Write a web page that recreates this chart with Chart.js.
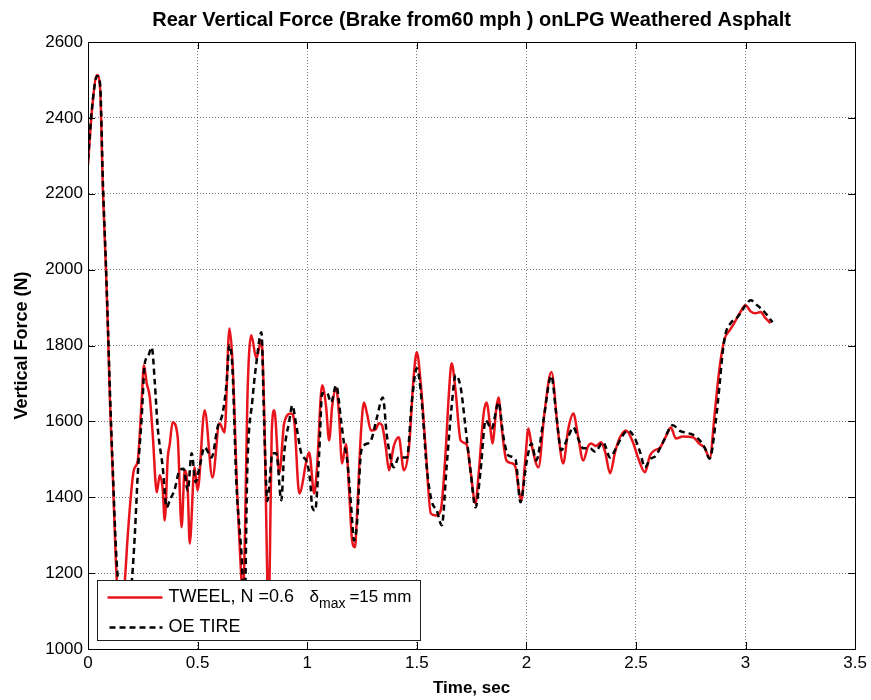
<!DOCTYPE html>
<html lang="en">
<head>
<meta charset="UTF-8">
<title>Rear Vertical Force</title>
<style>
  body { margin: 0; background: #fff; }
  #wrap { width: 871px; height: 700px; }
</style>
<script src="https://cdn.jsdelivr.net/npm/chart.js"></script>
</head>
<body>
<div id="wrap"><canvas id="chart" width="871" height="700"></canvas></div>
<script>
// TWEEL, N = 0.6, delta max = 15 mm
const tweelTime = [0.000, 0.018, 0.041, 0.055, 0.068, 0.082, 0.091, 0.100, 0.114, 0.127,
  0.145, 0.168, 0.182, 0.209, 0.227, 0.245, 0.255, 0.268, 0.282, 0.295,
  0.314, 0.327, 0.341, 0.350, 0.364, 0.373, 0.386, 0.409, 0.427, 0.441,
  0.455, 0.464, 0.486, 0.500, 0.532, 0.568, 0.600, 0.623, 0.645, 0.659,
  0.682, 0.700, 0.705, 0.716, 0.727, 0.745, 0.768, 0.791, 0.805, 0.818,
  0.823, 0.830, 0.838, 0.850, 0.873, 0.895, 0.927, 0.941, 0.964, 1.000,
  1.009, 1.032, 1.045, 1.068, 1.086, 1.100, 1.114, 1.132, 1.145, 1.159,
  1.177, 1.191, 1.205, 1.218, 1.227, 1.245, 1.259, 1.273, 1.291, 1.314,
  1.327, 1.341, 1.359, 1.373, 1.395, 1.418, 1.441, 1.464, 1.486, 1.500,
  1.518, 1.541, 1.564, 1.586, 1.609, 1.632, 1.645, 1.659, 1.677, 1.700,
  1.727, 1.745, 1.768, 1.782, 1.805, 1.818, 1.836, 1.845, 1.864, 1.873,
  1.886, 1.909, 1.932, 1.950, 1.968, 1.977, 1.995, 2.009, 2.023, 2.055,
  2.082, 2.114, 2.145, 2.168, 2.191, 2.214, 2.236, 2.259, 2.282, 2.295,
  2.318, 2.341, 2.359, 2.382, 2.405, 2.427, 2.455, 2.486, 2.509, 2.541,
  2.564, 2.586, 2.609, 2.636, 2.659, 2.682, 2.714, 2.759, 2.791, 2.814,
  2.836, 2.859, 2.873, 2.886, 2.905, 2.927, 2.950, 2.973, 3.000, 3.023,
  3.045, 3.068, 3.091, 3.114];
const tweelForce = [2276, 2420, 2513, 2480, 2210, 2000, 1840, 1656, 1445, 1234,
  1080, 1180, 1305, 1471, 1497, 1656, 1748, 1700, 1663, 1568,
  1413, 1458, 1420, 1339, 1505, 1540, 1598, 1560, 1321, 1471,
  1420, 1278, 1479, 1418, 1629, 1452, 1595, 1571, 1845, 1760,
  1392, 1180, 1120, 1300, 1656, 1827, 1766, 1814, 1600, 1180,
  1050, 1250, 1568, 1629, 1463, 1595, 1621, 1600, 1410, 1505,
  1518, 1410, 1480, 1695, 1640, 1550, 1640, 1687, 1620, 1489,
  1540, 1420, 1286, 1268, 1350, 1568, 1650, 1620, 1576, 1580,
  1595, 1590, 1530, 1471, 1535, 1558, 1471, 1530, 1720, 1782,
  1700, 1524, 1357, 1352, 1365, 1524, 1660, 1753, 1680, 1550,
  1540, 1470, 1384, 1460, 1621, 1650, 1580, 1542, 1640, 1663,
  1590, 1497, 1490, 1480, 1410, 1392, 1500, 1581, 1540, 1479,
  1620, 1730, 1570, 1489, 1580, 1621, 1560, 1497, 1535, 1542,
  1535, 1545, 1520, 1463, 1520, 1558, 1576, 1545, 1505, 1466,
  1510, 1524, 1530, 1560, 1584, 1555, 1560, 1558, 1540, 1530,
  1502, 1620, 1700, 1761, 1819, 1840, 1861, 1885, 1906, 1890,
  1885, 1888, 1872, 1859];

// OE tire
const oeTime = [0.000, 0.018, 0.041, 0.055, 0.068, 0.082, 0.091, 0.100, 0.114, 0.127,
  0.141, 0.159, 0.182, 0.200, 0.214, 0.227, 0.245, 0.259, 0.273, 0.291,
  0.305, 0.318, 0.341, 0.359, 0.373, 0.395, 0.418, 0.436, 0.455, 0.473,
  0.491, 0.509, 0.532, 0.564, 0.591, 0.614, 0.632, 0.645, 0.659, 0.677,
  0.700, 0.714, 0.727, 0.750, 0.768, 0.791, 0.805, 0.818, 0.827, 0.841,
  0.859, 0.882, 0.895, 0.918, 0.932, 0.950, 0.973, 1.000, 1.014, 1.023,
  1.036, 1.055, 1.068, 1.091, 1.109, 1.132, 1.155, 1.168, 1.182, 1.200,
  1.214, 1.227, 1.245, 1.259, 1.291, 1.318, 1.345, 1.364, 1.395, 1.418,
  1.455, 1.477, 1.500, 1.523, 1.545, 1.568, 1.591, 1.614, 1.636, 1.659,
  1.677, 1.700, 1.723, 1.745, 1.768, 1.791, 1.814, 1.841, 1.873, 1.895,
  1.918, 1.950, 1.973, 2.000, 2.023, 2.045, 2.077, 2.114, 2.136, 2.159,
  2.191, 2.214, 2.236, 2.259, 2.291, 2.314, 2.350, 2.382, 2.409, 2.436,
  2.464, 2.495, 2.518, 2.541, 2.564, 2.591, 2.623, 2.668, 2.700, 2.727,
  2.759, 2.791, 2.814, 2.836, 2.864, 2.882, 2.895, 2.909, 2.932, 2.964,
  3.000, 3.023, 3.055, 3.091, 3.123];
const oeForce = [2290, 2425, 2510, 2490, 2230, 2010, 1850, 1680, 1460, 1270,
  1150, 1060, 1100, 1180, 1305, 1460, 1611, 1753, 1770, 1795,
  1700, 1584, 1479, 1373, 1392, 1420, 1471, 1475, 1418, 1516,
  1440, 1480, 1532, 1505, 1584, 1621, 1700, 1801, 1740, 1437,
  1252, 1100, 1479, 1656, 1753, 1835, 1568, 1390, 1430, 1516,
  1516, 1392, 1516, 1600, 1642, 1590, 1516, 1490, 1440, 1373,
  1365, 1520, 1674, 1674, 1650, 1695, 1600, 1542, 1500, 1380,
  1286, 1330, 1516, 1537, 1550, 1610, 1663, 1560, 1479, 1505,
  1505, 1650, 1740, 1650, 1480, 1390, 1365, 1326, 1480, 1640,
  1722, 1690, 1580, 1470, 1373, 1470, 1603, 1580, 1650, 1560,
  1510, 1500, 1387, 1490, 1542, 1497, 1600, 1720, 1620, 1524,
  1560, 1584, 1555, 1529, 1529, 1520, 1545, 1505, 1530, 1560,
  1576, 1555, 1520, 1479, 1500, 1510, 1545, 1590, 1575, 1570,
  1565, 1550, 1530, 1502, 1600, 1700, 1780, 1832, 1859, 1875,
  1906, 1919, 1905, 1885, 1861];

const FONT = "'Liberation Sans', Arial, Helvetica, sans-serif";

const toPoints = (xs, ys) => xs.map((t, i) => ({x: t, y: ys[i]}));

// matlab-like axes: closed box, inward tick marks, boxed legend on top of the lines
const axesBox = {
  id: 'axesBox',
  afterDraw(chart) {
    const {ctx, chartArea: a, scales: {x, y}} = chart;
    ctx.save();
    ctx.strokeStyle = '#000';
    ctx.lineWidth = 1;
    ctx.beginPath();
    x.ticks.forEach(t => {
      const px = Math.round(x.getPixelForValue(t.value)) + 0.5;
      ctx.moveTo(px, a.bottom); ctx.lineTo(px, a.bottom - 7);
      ctx.moveTo(px, a.top); ctx.lineTo(px, a.top + 7);
    });
    y.ticks.forEach(t => {
      const py = Math.round(y.getPixelForValue(t.value)) + 0.5;
      ctx.moveTo(a.left, py); ctx.lineTo(a.left + 7, py);
      ctx.moveTo(a.right, py); ctx.lineTo(a.right - 7, py);
    });
    ctx.stroke();
    ctx.strokeRect(Math.round(a.left) + 0.5, Math.round(a.top) + 0.5,
      Math.round(a.right - a.left), Math.round(a.bottom - a.top));

    // legend
    const lx = Math.round(a.left) + 9.5, lw = 323, lh = 60;
    const ly = Math.round(a.bottom) - 8.5 - lh;
    ctx.fillStyle = '#fff';
    ctx.fillRect(lx, ly, lw, lh);
    ctx.strokeStyle = '#222';
    ctx.strokeRect(lx, ly, lw, lh);

    const row1 = ly + 17, row2 = ly + 47;
    ctx.lineWidth = 2.5;
    ctx.strokeStyle = '#e8141b';
    ctx.beginPath(); ctx.moveTo(lx + 10, row1); ctx.lineTo(lx + 65, row1); ctx.stroke();
    ctx.strokeStyle = '#000';
    ctx.setLineDash([6, 4]);
    ctx.beginPath(); ctx.moveTo(lx + 12, row2); ctx.lineTo(lx + 65, row2); ctx.stroke();
    ctx.setLineDash([]);

    ctx.fillStyle = '#000';
    ctx.textBaseline = 'middle';
    ctx.textAlign = 'left';
    ctx.font = '18px ' + FONT;
    ctx.fillText('TWEEL, N =0.6', lx + 71, row1);
    ctx.fillText('OE TIRE', lx + 71, row2);
    ctx.font = '17px ' + FONT;
    ctx.fillText('δ', lx + 212, row1);
    const dw = ctx.measureText('δ').width;
    ctx.font = '14px ' + FONT;
    ctx.fillText('max', lx + 212 + dw, row1 + 7);
    const mw = ctx.measureText('max').width;
    ctx.font = '17px ' + FONT;
    ctx.fillText('=15 mm', lx + 216 + dw + mw, row1);
    ctx.restore();
  }
};

new Chart(document.getElementById('chart'), {
  type: 'line',
  data: {
    datasets: [
      {
        label: 'TWEEL, N =0.6  δmax =15 mm',
        data: toPoints(tweelTime, tweelForce),
        borderColor: '#e8141b',
        borderWidth: 2.5,
        pointRadius: 0,
        cubicInterpolationMode: 'monotone',
        order: 2
      },
      {
        label: 'OE TIRE',
        data: toPoints(oeTime, oeForce),
        borderColor: '#000',
        borderWidth: 2.5,
        borderDash: [6, 4],
        pointRadius: 0,
        cubicInterpolationMode: 'monotone',
        order: 1
      }
    ]
  },
  options: {
    responsive: false,
    animation: false,
    layout: { padding: { left: 0, right: 13, top: 0, bottom: 0 } },
    plugins: {
      legend: { display: false },
      tooltip: { enabled: false },
      title: {
        display: true,
        fullSize: false,
        text: 'Rear Vertical Force (Brake from60 mph ) onLPG Weathered Asphalt',
        color: '#000',
        font: { family: FONT, size: 20, weight: 'bold' },
        padding: { top: 8, bottom: 10 }
      }
    },
    scales: {
      x: {
        type: 'linear',
        min: 0,
        max: 3.5,
        ticks: {
          stepSize: 0.5,
          color: '#000',
          padding: 4,
          font: { family: FONT, size: 17 },
          callback: v => String(v)
        },
        grid: { color: 'rgba(0,0,0,0.5)', drawTicks: false },
        border: { display: true, color: '#000', dash: [1, 2] },
        title: {
          display: true,
          text: 'Time, sec',
          color: '#000',
          font: { family: FONT, size: 17, weight: 'bold' },
          padding: { top: 0, bottom: 1 }
        },
        afterFit: s => { s.height = 51; }
      },
      y: {
        min: 1000,
        max: 2600,
        ticks: {
          stepSize: 200,
          color: '#000',
          padding: 5,
          font: { family: FONT, size: 17 },
          callback: v => String(v)
        },
        grid: { color: 'rgba(0,0,0,0.5)', drawTicks: false },
        border: { display: true, color: '#000', dash: [1, 2] },
        title: {
          display: true,
          text: 'Vertical Force (N)',
          color: '#000',
          font: { family: FONT, size: 18, weight: 'bold' },
          padding: { top: 11, bottom: 0 }
        },
        afterFit: s => { s.width = 88; }
      }
    }
  },
  plugins: [axesBox]
});
</script>
</body>
</html>
